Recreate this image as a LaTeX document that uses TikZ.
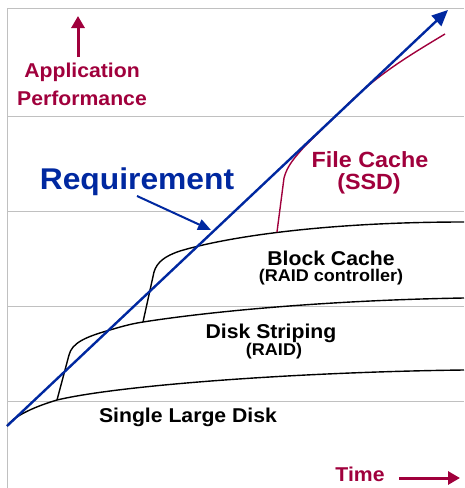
\documentclass[tikz,border=0pt]{standalone}
\usepackage{fontspec}
\setmainfont{Liberation Sans}[FakeStretch=1.06]
\usetikzlibrary{arrows.meta}
\definecolor{appred}{RGB}{160,0,60}
\definecolor{reqblue}{RGB}{0,40,160}
\definecolor{gridgray}{RGB}{192,192,192}
\tikzset{
  gridline/.style={draw=gridgray, line width=1pt},
  tier/.style={draw=black, line width=1.4pt},
  lbl/.style={font=\bfseries\fontsize{20}{22}\selectfont, inner sep=0pt, align=center},
  sublbl/.style={font=\bfseries\fontsize{17}{19}\selectfont, inner sep=0pt},
  redlbl/.style={lbl, text=appred},
  redarrow/.style={draw=appred, line width=3pt, -{Triangle[length=12pt,width=13pt]}},
  bluearrow/.style={draw=reqblue, line width=2.4pt, -{Triangle[length=16pt,width=14pt]}},
}
\begin{document}
\begin{tikzpicture}[x=1pt,y=-1pt]
\useasboundingbox (0,0) rectangle (464,488);
% grid
\draw[gridline] (7,488) -- (7,8) -- (464,8);
\foreach \yy in {116,211,306,401} \draw[gridline] (7,\yy) -- (464,\yy);

% axis labels
\coordinate (upS) at (78,57);
\coordinate (upE) at (78,16);
\draw[redarrow] (upS) -- (upE);
\node[redlbl] (app) at (82,72) {Application};
\node[redlbl] (perf) at (82,98) {Performance};
\node[redlbl] (time) at (360,474) {Time};
\coordinate (tS) at (399,478);
\coordinate (tE) at (460,478);
\draw[redarrow] (tS) -- (tE);

% tier curves
\coordinate (c0) at (7,426);
\coordinate (k1) at (57,400);
\coordinate (k2) at (143,322);
\coordinate (rf) at (277,232);
\draw[tier] (c0) .. controls (12,418) and (30,408) .. (k1)
  .. controls (120,385) and (300,372) .. (464,370);
\draw[tier] (k1) -- (69,355) .. controls (72,343) and (85,337) .. (110,330)
  .. controls (120,327) and (130,324) .. (k2)
  .. controls (220,310) and (340,300) .. (464,298);
\draw[tier] (k2) -- (154,272) .. controls (157,262) and (165,256) .. (180,251)
  .. controls (230,236) and (330,222) .. (464,222);

% file cache curve
\draw[draw=appred, line width=1.4pt] (rf) -- (284,178) .. controls (287,166) and (295,157) .. (305,146)
  -- (350,102) .. controls (380,73) and (410,55) .. (445,34);

% requirement line
\coordinate (rq0) at (7,426);
\coordinate (rq1) at (448,10);
\draw[bluearrow] (rq0) -- (rq1);
\node[font=\bfseries\fontsize{30}{32}\selectfont, text=reqblue, inner sep=0pt] (req) at (137,182) {Requirement};
\coordinate (rqa) at (137,196);
\coordinate (rqb) at (211,230);
\draw[draw=reqblue, line width=2pt, -{Triangle[length=13pt,width=11pt]}] (rqa) -- (rqb);

% tier labels
\node[redlbl, font=\bfseries\fontsize{22}{24}\selectfont] (fc) at (370,160) {File Cache};
\node[redlbl, font=\bfseries\fontsize{22}{24}\selectfont] (ssd) at (369,184) {(SSD)};
\node[lbl] (bc) at (331,258) {Block Cache};
\node[sublbl] (rc) at (331,277) {(RAID controller)};
\node[lbl] (ds) at (271,333) {Disk Striping};
\node[sublbl] (raid) at (274,351) {(RAID)};
\node[lbl] (sld) at (188,417) {Single Large Disk};
\end{tikzpicture}
\end{document}
